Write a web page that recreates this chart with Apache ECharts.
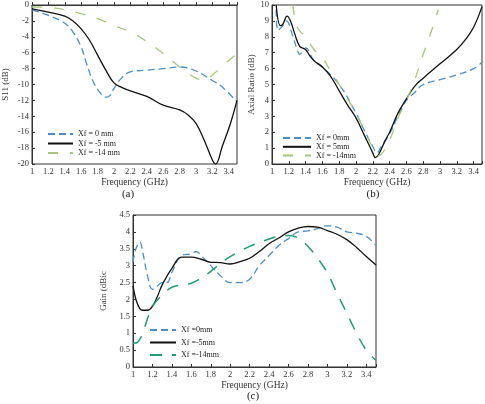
<!DOCTYPE html>
<html><head><meta charset="utf-8">
<script src="https://cdn.jsdelivr.net/npm/echarts@6/dist/echarts.min.js"></script>
<style>html,body{margin:0;padding:0;background:#fff}#c{width:485px;height:404px}</style>
</head><body><div id="c"></div>
<script>
// (a) S11 (dB)
const s11_xf0 = [[1,-0.6],[1.2,-1.3],[1.4,-2.3],[1.5,-3.4],[1.6,-5.3],[1.66,-7.2],[1.74,-9.5],[1.82,-10.9],[1.9,-11.6],[1.95,-11.4],[2.0,-10.5],[2.1,-9.1],[2.2,-8.4],[2.4,-8.2],[2.6,-8.0],[2.8,-7.8],[3.0,-8.3],[3.2,-9.5],[3.33,-10.4],[3.5,-12.2]];
const s11_xf5 = [[1,-0.5],[1.2,-0.9],[1.4,-1.4],[1.5,-2.0],[1.6,-3.0],[1.7,-4.4],[1.8,-6.3],[1.9,-8.2],[2.0,-9.8],[2.1,-10.4],[2.2,-10.8],[2.4,-11.5],[2.6,-12.6],[2.8,-13.2],[2.9,-13.8],[3.0,-14.9],[3.1,-17.0],[3.2,-19.5],[3.24,-20],[3.32,-17.8],[3.42,-14.9],[3.5,-12.0]];
const s11_xf14 = [[1,-0.25],[1.2,-0.3],[1.4,-0.6],[1.6,-1.1],[1.8,-1.7],[2.0,-2.6],[2.2,-3.4],[2.4,-4.6],[2.6,-6.1],[2.8,-7.8],[3.0,-9.2],[3.1,-9.4],[3.2,-8.8],[3.33,-7.6],[3.5,-6.1]];
// (b) Axial Ratio (dB)
const ar_xf0 = [[1.05,9.7],[1.07,8.4],[1.13,8.7],[1.17,9.0],[1.25,8.0],[1.3,7.2],[1.33,6.9],[1.4,7.3],[1.5,6.5],[1.6,6.1],[1.8,5.0],[2.0,3.2],[2.1,2.1],[2.2,1.1],[2.25,0.7],[2.3,1.1],[2.4,1.9],[2.5,3.0],[2.6,4.0],[2.7,4.5],[2.8,5.0],[3.0,5.3],[3.2,5.6],[3.4,6.0],[3.5,6.4]];
const ar_xf5 = [[1.05,10],[1.1,8.7],[1.13,8.8],[1.18,9.3],[1.22,9.0],[1.27,8.2],[1.33,7.4],[1.4,7.2],[1.45,6.8],[1.5,6.5],[1.6,6.1],[1.7,5.5],[1.8,4.6],[1.9,3.7],[2.0,2.9],[2.1,1.8],[2.2,0.7],[2.23,0.4],[2.27,0.6],[2.35,1.5],[2.4,2.0],[2.5,3.2],[2.6,4.1],[2.7,4.9],[2.8,5.4],[3.0,6.3],[3.2,7.2],[3.3,7.8],[3.4,8.6],[3.5,9.9]];
const ar_xf14 = [[1.25,10],[1.3,8.6],[1.4,8.0],[1.5,7.2],[1.6,6.7],[1.7,5.8],[1.8,5.0],[1.9,4.1],[2.0,3.2],[2.1,2.1],[2.2,1.0],[2.25,0.5],[2.3,0.6],[2.4,1.5],[2.5,2.9],[2.6,4.0],[2.7,5.3],[2.8,6.9],[2.9,8.4],[2.98,9.7]];
// (c) Gain (dBic)
const g_xf0 = [[1.0,3.1],[1.03,3.5],[1.07,3.7],[1.1,3.4],[1.15,2.7],[1.2,2.3],[1.25,2.4],[1.3,2.5],[1.35,2.5],[1.4,2.8],[1.5,3.3],[1.6,3.35],[1.65,3.42],[1.7,3.3],[1.8,3.0],[1.9,2.7],[2.0,2.5],[2.1,2.5],[2.2,2.6],[2.3,3.0],[2.4,3.3],[2.5,3.6],[2.6,3.8],[2.7,4.0],[2.8,4.03],[2.9,4.1],[3.0,4.18],[3.1,4.14],[3.2,4.0],[3.3,3.96],[3.4,3.87],[3.5,3.6]];
const g_xf5 = [[1.0,2.4],[1.03,2.0],[1.07,1.73],[1.1,1.68],[1.15,1.68],[1.2,1.8],[1.25,2.08],[1.3,2.43],[1.4,2.92],[1.5,3.25],[1.6,3.25],[1.7,3.19],[1.8,3.1],[1.9,3.09],[2.0,3.05],[2.1,3.12],[2.2,3.22],[2.3,3.42],[2.4,3.65],[2.5,3.82],[2.6,4.0],[2.7,4.11],[2.8,4.16],[2.9,4.14],[3.0,4.04],[3.1,3.93],[3.2,3.77],[3.3,3.54],[3.4,3.27],[3.5,3.02]];
const g_xf14 = [[1.0,0.7],[1.05,0.74],[1.1,1.0],[1.15,1.44],[1.2,1.8],[1.3,2.13],[1.4,2.36],[1.5,2.43],[1.6,2.48],[1.7,2.63],[1.8,2.83],[1.9,3.07],[2.0,3.27],[2.2,3.57],[2.4,3.79],[2.5,3.87],[2.6,3.89],[2.7,3.82],[2.8,3.57],[2.9,3.22],[3.0,2.78],[3.1,2.18],[3.2,1.59],[3.3,1.0],[3.4,0.5],[3.5,0.2]];

const namesA = ['Xf = 0 mm','Xf = -5 mm','Xf = -14 mm'];
const namesB = ['Xf = 0mm','Xf = 5mm','Xf = -14mm'];
const namesC = ['Xf =0mm','Xf =-5mm','Xf =-14mm'];
const panelLabels = ['(a)','(b)','(c)'];
const xTitle = 'Frequency (GHz)';
const yTitles = ['S11 (dB)','Axial Ratio (dB)','Gain (dBic'];

const FONT = '"Liberation Serif", "DejaVu Serif", serif';
const BLUE = '#4a8fc9', BLACK = '#111', LGREEN = '#a8c679', TGREEN = '#1d9e6e';

function xAx(i){
  return {gridIndex:i, type:'value', min:1, max:3.5, interval:0.2,
    name:xTitle, nameLocation:'middle', nameGap:13,
    nameTextStyle:{fontFamily:FONT, fontSize:9.5, color:'#333'},
    axisLine:{show:true, lineStyle:{color:'#333', width:1}},
    axisTick:{inside:true, length:3, lineStyle:{color:'#333'}},
    axisLabel:{fontFamily:FONT, fontSize:8.5, color:'#333', margin:3,
      formatter:v=> (Math.abs(v-3.5)<1e-6 ? '' : String(+v.toFixed(1)))},
    splitLine:{show:false}};
}
function yAx(i,min,max,iv,gap){
  return {gridIndex:i, type:'value', min:min, max:max, interval:iv,
    name:yTitles[i], nameLocation:'middle', nameGap:gap,
    nameTextStyle:{fontFamily:FONT, fontSize:9, color:'#333'},
    axisLine:{show:true, lineStyle:{color:'#333', width:1}},
    axisTick:{inside:true, length:3, lineStyle:{color:'#333'}},
    axisLabel:{fontFamily:FONT, fontSize:8.5, color:'#333', margin:3},
    splitLine:{show:false}};
}
function ser(name, data, i, color, type, w){
  return {name, type:'line', xAxisIndex:i, yAxisIndex:i, data, smooth:0.4,
    symbol:'none', lineStyle:{color, type, width:w}, itemStyle:{color}, z:3};
}
function leg(names, left, top, w, gap){
  return {orient:'vertical', left, top, data:names, itemWidth:w, itemHeight:8, itemGap:gap,
    itemStyle:{opacity:0}, textStyle:{fontFamily:FONT, fontSize:8, color:'#222'}, selectedMode:false};
}
const dashBlue=[7,4], dashLG=[10,12], dashTG=[12,10];

const option = {
  animation:false,
  backgroundColor:'#fff',
  grid:[
    {left:24, top:5, width:213, height:159, show:true, borderColor:'#333', borderWidth:1, backgroundColor:'transparent'},
    {left:272, top:5, width:212, height:159, show:true, borderColor:'#333', borderWidth:1, backgroundColor:'transparent'},
    {left:133, top:215, width:243, height:152, show:true, borderColor:'#333', borderWidth:1, backgroundColor:'transparent'}
  ],
  xAxis:[xAx(0), xAx(1), xAx(2)],
  yAxis:[yAx(0,-20,0,2,22), yAx(1,0,10,1,13), yAx(2,0,4.5,0.5,11)],
  legend:[
    leg(namesA, 42, 125, 25, 1.5),
    leg(namesB, 277, 129, 28, 0.8),
    leg(namesC, 144, 321, 26, 4.5)
  ],
  series:[
    ser(namesA[0], s11_xf0, 0, BLUE, dashBlue, 1.3),
    ser(namesA[1], s11_xf5, 0, BLACK, 'solid', 1.3),
    ser(namesA[2], s11_xf14, 0, LGREEN, dashLG, 1.3),
    ser(namesB[0], ar_xf0, 1, BLUE, dashBlue, 1.3),
    ser(namesB[1], ar_xf5, 1, BLACK, 'solid', 1.3),
    ser(namesB[2], ar_xf14, 1, LGREEN, dashLG, 1.3),
    ser(namesC[0], g_xf0, 2, BLUE, dashBlue, 1.3),
    ser(namesC[1], g_xf5, 2, BLACK, 'solid', 1.3),
    ser(namesC[2], g_xf14, 2, TGREEN, dashTG, 1.5)
  ],
  graphic:[
    {type:'text', x:128, y:189, style:{text:panelLabels[0], font:'11px '+FONT, fill:'#222', textAlign:'center'}},
    {type:'text', x:373, y:189, style:{text:panelLabels[1], font:'11px '+FONT, fill:'#222', textAlign:'center'}},
    {type:'text', x:253, y:391, style:{text:panelLabels[2], font:'11px '+FONT, fill:'#222', textAlign:'center'}}
  ]
};
const chart = echarts.init(document.getElementById('c'), null, {renderer:'canvas'});
chart.setOption(option);
</script></body></html>
